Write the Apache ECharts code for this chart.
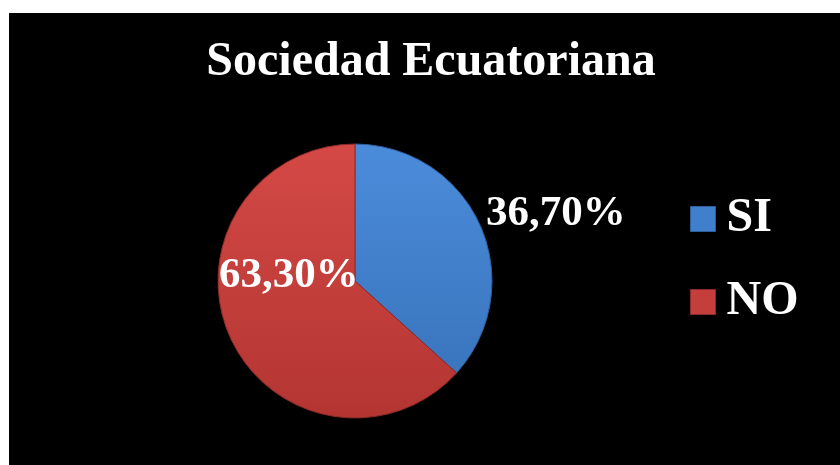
<!DOCTYPE html>
<html>
<head>
<meta charset="utf-8">
<script src="https://cdn.jsdelivr.net/npm/echarts@6/dist/echarts.min.js"></script>
<style>
html,body{margin:0;padding:0;background:#fff;}
#chart{width:840px;height:465px;}
</style>
</head>
<body>
<div id="chart"></div>
<script>
const titleText = 'Sociedad Ecuatoriana';
const categories = ['SI', 'NO'];
const values = [36.7, 63.3];

const SERIF = '"Liberation Serif", "Times New Roman", serif';
const fills = [
  new echarts.graphic.LinearGradient(0, 0, 0, 1, [
    {offset: 0, color: '#4b8cda'}, {offset: 1, color: '#3a75be'}
  ]),
  new echarts.graphic.LinearGradient(0, 0, 0, 1, [
    {offset: 0, color: '#d44946'}, {offset: 1, color: '#b33532'}
  ])
];
const borders = ['#2f5f9c', '#8e2a28'];
const legendColors = ['#3f7fcc', '#c43e3b'];

const chart = echarts.init(document.getElementById('chart'));
chart.setOption({
  backgroundColor: '#ffffff',
  animation: false,
  graphic: [{
    type: 'rect', z: -10,
    shape: {x: 9, y: 13, width: 831, height: 452},
    style: {fill: '#000000'}
  }],
  title: {
    text: titleText,
    left: 426, top: 34, textAlign: 'center',
    textStyle: {fontFamily: SERIF, fontWeight: 'bold', fontSize: 48, color: '#ffffff'}
  },
  legend: {
    orient: 'vertical',
    left: 690, top: 194, padding: 0,
    itemWidth: 25, itemHeight: 25, itemGap: 33,
    icon: 'rect',
    data: categories.map((c, i) => ({
      name: c,
      itemStyle: {color: legendColors[i], borderColor: borders[i], borderWidth: 1}
    })),
    textStyle: {fontFamily: SERIF, fontWeight: 'bold', fontSize: 48, color: '#ffffff', lineHeight: 50, padding: [0, 0, 0, 6]}
  },
  series: [{
    type: 'pie',
    center: [355, 281],
    radius: 137,
    startAngle: 90,
    clockwise: true,
    labelLine: {show: false},
    label: {
      show: true,
      color: '#ffffff',
      fontFamily: SERIF, fontWeight: 'bold', fontSize: 43,
      formatter: p => p.value.toFixed(2).replace('.', ',') + '%'
    },
    labelLayout: p => p.dataIndex === 0
      ? {x: 486, y: 214, align: 'left', verticalAlign: 'middle'}
      : {x: 219, y: 276, align: 'left', verticalAlign: 'middle'},
    data: categories.map((c, i) => ({
      name: c, value: values[i],
      itemStyle: {color: fills[i], borderColor: borders[i], borderWidth: 1}
    }))
  }]
});
</script>
</body>
</html>
